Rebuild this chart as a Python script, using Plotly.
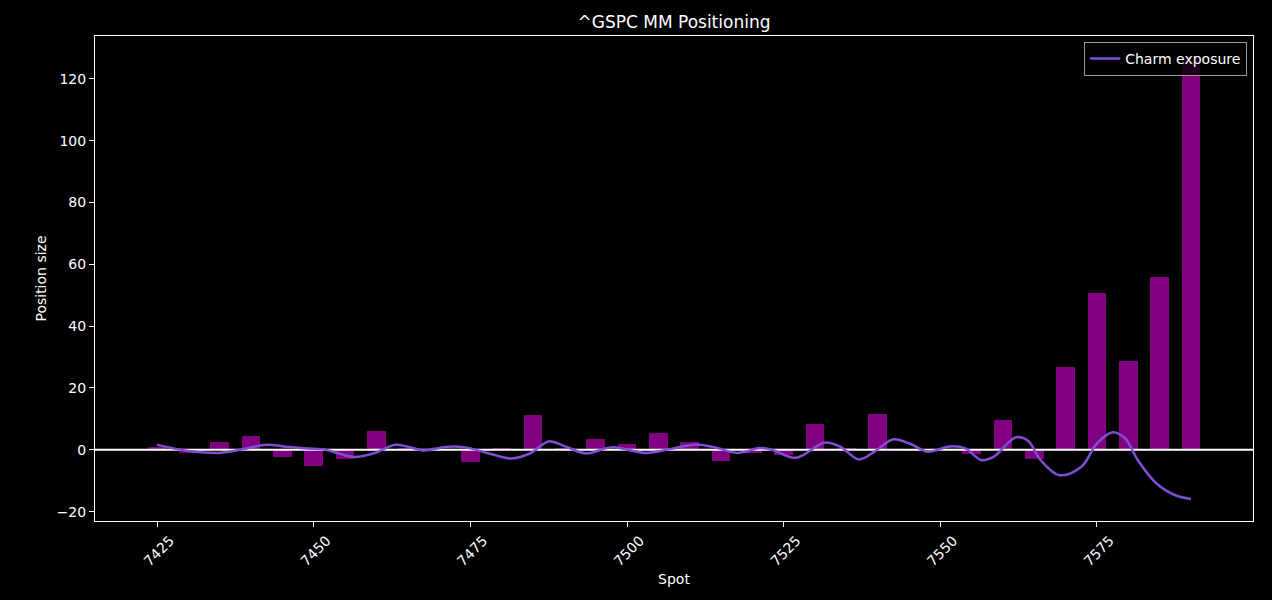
import plotly.graph_objects as go

# bars: position size per strike
spot = [7425, 7430, 7435, 7440, 7445, 7450, 7455, 7460, 7465, 7470,
        7475, 7480, 7485, 7490, 7495, 7500, 7505, 7510, 7515, 7520,
        7525, 7530, 7535, 7540, 7545, 7550, 7555, 7560, 7565, 7570,
        7575, 7580, 7585, 7590]
position = [1.0, -1.0, 2.6, 4.5, -2.2, -5.1, -3.1, 6.2, 0.6, 0.0,
            -3.8, 0.5, 11.1, 0.5, 3.6, 2.0, 5.5, 2.6, -3.6, -0.9,
            -1.6, 8.4, 0.6, 11.7, -0.5, 0.0, -1.5, 9.7, -3.1, 26.8,
            50.8, 28.8, 56.0, 126.7]

# charm exposure curve
charm_x = [7425, 7427.5, 7430, 7435, 7438, 7442.5, 7445.5, 7449, 7451.5, 7454,
           7456.5, 7459.5, 7463, 7465, 7467.5, 7471, 7473, 7475, 7478, 7481.5,
           7484.5, 7487.5, 7490, 7493.5, 7496.5, 7498, 7503, 7507, 7511, 7514,
           7517.5, 7519.5, 7521, 7523, 7527, 7531.5, 7534, 7537, 7539.5, 7542.5,
           7545, 7548, 7551.5, 7554, 7556.5, 7558.5, 7562, 7564, 7566, 7569,
           7572.5, 7575, 7577.5, 7579.5, 7581.5, 7584.5, 7587.5, 7590]
charm_y = [1.6, 0.5, -0.4, -1.0, -0.1, 1.6, 1.0, 0.4, 0.2, -1.2,
           -2.3, -1.2, 1.6, 1.0, -0.2, 0.9, 1.0, 0.45, -1.2, -2.8,
           -1.2, 2.7, 1.2, -1.2, 0.45, 0.8, -1.0, 0.3, 1.75, 0.8,
           -1.0, -0.3, 0.6, 0.1, -2.6, 2.3, 1.0, -3.1, -0.6, 3.4,
           2.1, -0.6, 1.1, 0.45, -3.3, -2.3, 4.0, 2.9, -3.3, -8.2,
           -5.5, 2.1, 5.7, 3.7, -3.3, -10.9, -14.7, -15.9]

x_ticks = [7425, 7450, 7475, 7500, 7525, 7550, 7575]
y_ticks = [-20, 0, 20, 40, 60, 80, 100, 120]

bar_w = 3
x_lo, x_hi = min(spot) - bar_w / 2, max(spot) + bar_w / 2
x_pad = (x_hi - x_lo) * 0.05
y_lo, y_hi = min(min(position), min(charm_y)), max(max(position), max(charm_y))
y_pad = (y_hi - y_lo) * 0.05
x_range = [x_lo - x_pad, x_hi + x_pad]

font = "DejaVu Sans"
fs = 14

fig = go.Figure()
fig.add_trace(go.Bar(x=spot, y=position, width=bar_w, marker_color="#800080",
                     marker_line_width=0, showlegend=False))
fig.add_trace(go.Scatter(x=x_range, y=[0, 0], mode="lines",
                         line=dict(color="white", width=2),
                         showlegend=False, hoverinfo="skip"))
fig.add_trace(go.Scatter(x=charm_x, y=charm_y, mode="lines", name="Charm exposure",
                         line=dict(color="#7E4FD3", width=2.5, shape="spline", smoothing=1.0)))

axis_common = dict(showline=True, linecolor="white", linewidth=1, mirror=True,
                   showgrid=False, zeroline=False, ticks="outside", ticklen=5,
                   tickcolor="white", tickwidth=1,
                   tickfont=dict(family=font, size=fs, color="white"))

fig.update_layout(
    width=1272, height=600,
    paper_bgcolor="black", plot_bgcolor="black",
    margin=dict(l=95, r=19, t=36, b=79),
    title=dict(text="^GSPC MM Positioning", xref="paper", x=0.5, xanchor="center",
               y=1 - 22 / 600, yanchor="middle",
               font=dict(family=font, size=17, color="white")),
    xaxis=dict(range=x_range, tickvals=x_ticks, tickangle=-45, ticklabelshift=13,
               title=dict(text="Spot", font=dict(family=font, size=fs, color="white"),
                          standoff=6),
               **axis_common),
    yaxis=dict(range=[y_lo - y_pad, y_hi + y_pad], tickvals=y_ticks,
               title=dict(text="Position size", font=dict(family=font, size=fs, color="white"),
                          standoff=6),
               **axis_common),
    legend=dict(x=0.995, y=0.988, xanchor="right", yanchor="top", itemwidth=30,
                bgcolor="rgba(0,0,0,0.8)", bordercolor="#999", borderwidth=1,
                font=dict(family=font, size=fs, color="white")),
    bargap=0,
)

fig.write_html("out.html", config={"displayModeBar": False},
               post_script="document.body.style.margin='0';")
